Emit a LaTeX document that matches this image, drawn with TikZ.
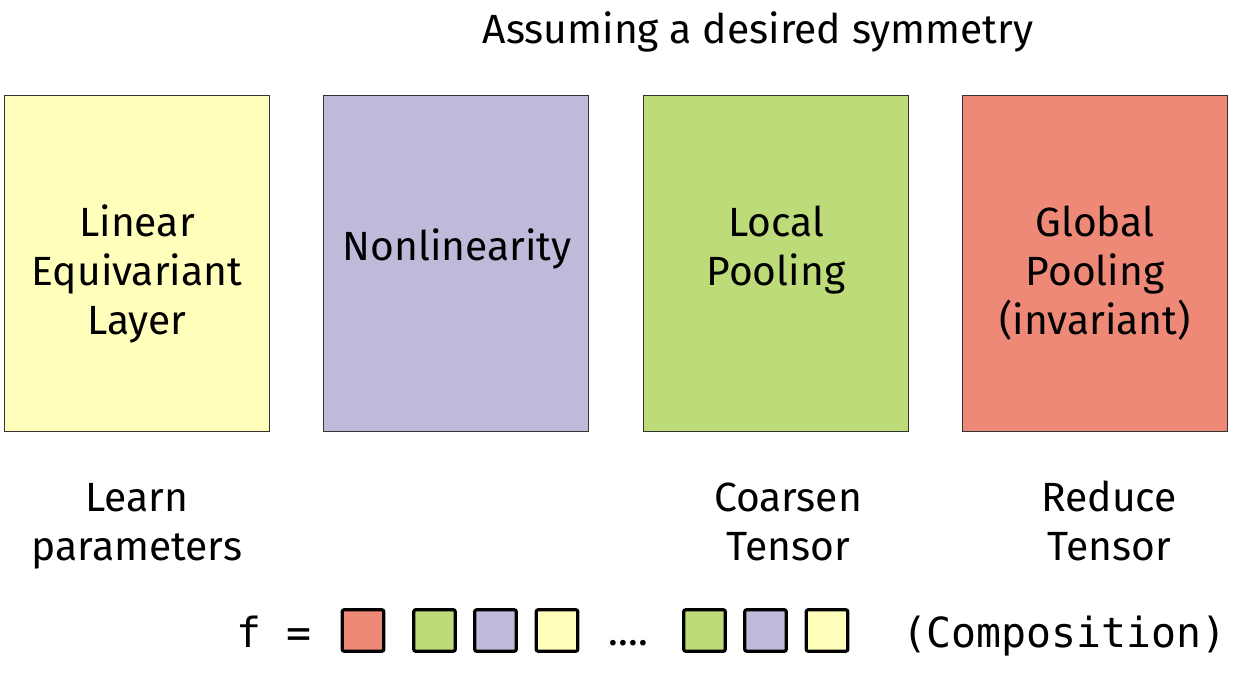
\documentclass[tikz,border=0pt]{standalone}
\usepackage{fontspec}
\setmainfont{Fira Sans}
\setmonofont{DejaVu Sans Mono}
\definecolor{cyel}{HTML}{FFFFBB}
\definecolor{cpur}{HTML}{BEBADA}
\definecolor{cgrn}{HTML}{BEDB7A}
\definecolor{cred}{HTML}{EE8877}
\begin{document}
\begin{tikzpicture}[x=1pt,y=-1pt,
  bigbox/.style={draw=black!80, line width=1.2pt, minimum width=265pt, minimum height=336pt, inner sep=0pt},
  smallbox/.style={draw=black, line width=3.2pt, rounded corners=2pt, minimum width=41.5pt, minimum height=41.5pt, inner sep=0pt},
  lbl/.style={font=\fontsize{40.8}{49}\selectfont, align=center, inner sep=0pt},
  mono/.style={font=\ttfamily\fontsize{41.5}{48}\selectfont, inner sep=0pt}]
\useasboundingbox[fill=white] (0,0) rectangle (1242,674);

\node[lbl, anchor=base] (title) at (758,44) {Assuming a desired symmetry};

\node[bigbox, fill=cyel] (b1) at (137,263.5) {};
\node[bigbox, fill=cpur] (b2) at (456,263.5) {};
\node[bigbox, fill=cgrn] (b3) at (776,263.5) {};
\node[bigbox, fill=cred] (b4) at (1095,263.5) {};

\node[lbl, anchor=base] (t1) at (137,334) {Linear\\Equivariant\\Layer};
\node[lbl, anchor=base] (t2) at (457,260) {Nonlinearity};
\node[lbl, anchor=base] (t3) at (776,285) {Local\\Pooling};
\node[lbl, anchor=base] (t4) at (1095,334) {Global\\Pooling\\(invariant)};

\node[lbl, anchor=base] (d1) at (137,560) {Learn\\parameters};
\node[lbl, anchor=base] (d3) at (788,560) {Coarsen\\Tensor};
\node[lbl, anchor=base] (d4) at (1109,560) {Reduce\\Tensor};

\node[mono, anchor=base west] (f) at (236,647) {f =};
\node[smallbox, fill=cred] (s1) at (363,630.5) {};
\node[smallbox, fill=cgrn] (s2) at (434.5,630.5) {};
\node[smallbox, fill=cpur] (s3) at (495.5,630.5) {};
\node[smallbox, fill=cyel] (s4) at (557,630.5) {};
\node[lbl, anchor=base] (dots) at (628.5,645) {....};
\node[smallbox, fill=cgrn] (s5) at (704.5,630.5) {};
\node[smallbox, fill=cpur] (s6) at (765.5,630.5) {};
\node[smallbox, fill=cyel] (s7) at (827,630.5) {};
\node[mono, anchor=base east] (comp) at (1227,647) {(Composition)};
\end{tikzpicture}
\end{document}
